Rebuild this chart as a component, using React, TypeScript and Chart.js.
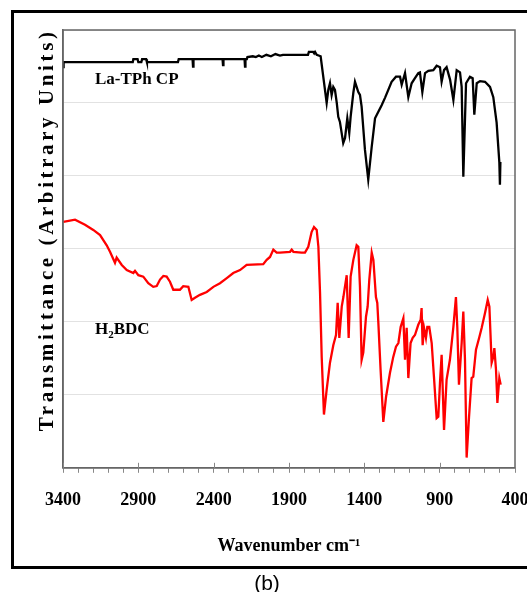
import React, { useEffect, useRef } from "react";
import { Chart, registerables } from "chart.js";

Chart.register(...registerables);

// La-TPh CP (black) spectrum: wavenumber (cm-1) and transmittance (arb. units)
const blackWn = [
  3400, 3396, 2937, 2933, 2905, 2900, 2880, 2875, 2848, 2843, 2637, 2632, 2540, 2537, 2534,
  2341, 2338, 2335, 2195, 2192, 2189, 2180, 2176, 2140, 2120, 2100, 2080, 2050, 2020, 1990,
  1960, 1940, 1774, 1768, 1740, 1733, 1727, 1716, 1690, 1650, 1639, 1628, 1617, 1606, 1595,
  1583, 1573, 1562, 1540, 1528, 1513, 1500, 1491, 1473, 1462, 1440, 1429, 1418, 1396, 1374,
  1351, 1329, 1307, 1285, 1263, 1241, 1219, 1190, 1163, 1152, 1130, 1108, 1086, 1064, 1042,
  1031, 1015, 997, 975, 942, 920, 898, 887, 871, 854, 831, 809, 787, 765, 754, 743, 725, 699,
  681, 670, 654, 632, 599, 566, 544, 522, 504, 500, 497,
];
const blackT = [
  54.9, 55.6, 55.6, 56.0, 56.0, 55.6, 55.6, 56.0, 56.0, 55.6, 55.6, 56.0, 56.0, 55.0, 56.0,
  56.0, 55.2, 56.0, 56.0, 55.0, 56.0, 56.0, 56.3, 56.4, 56.3, 56.5, 56.3, 56.6, 56.4, 56.7,
  56.5, 56.6, 56.6, 57.0, 57.0, 56.8, 57.0, 56.6, 56.4, 50.0, 51.8, 52.7, 51.1, 52.2, 51.8,
  50.0, 48.1, 47.4, 44.5, 45.2, 47.9, 45.9, 48.1, 51.4, 52.9, 51.5, 51.1, 49.5, 43.6, 39.5,
  44.0, 47.9, 48.8, 49.7, 50.7, 51.8, 52.9, 53.6, 53.6, 52.5, 54.1, 50.8, 52.7, 53.4, 54.1,
  54.2, 51.5, 54.1, 54.4, 54.5, 55.1, 54.9, 52.9, 54.5, 54.9, 53.2, 50.4, 54.5, 54.2, 52.2,
  39.9, 52.7, 53.6, 53.4, 48.4, 52.7, 53.0, 52.9, 52.2, 50.8, 47.3, 41.9, 38.8, 41.9,
];

// H2BDC (red) spectrum
const redWn = [
  3398, 3320, 3254, 3199, 3154, 3110, 3088, 3055, 3044, 3010, 2977, 2933, 2922, 2900, 2867,
  2834, 2801, 2778, 2756, 2734, 2712, 2690, 2668, 2624, 2602, 2568, 2546, 2524, 2491, 2446,
  2402, 2358, 2313, 2270, 2225, 2181, 2071, 2048, 2026, 2004, 1982, 1960, 1893, 1882, 1871,
  1816, 1794, 1772, 1750, 1734, 1716, 1705, 1694, 1683, 1668, 1650, 1628, 1606, 1588, 1577,
  1566, 1550, 1539, 1517, 1504, 1491, 1473, 1451, 1440, 1429, 1418, 1407, 1389, 1378, 1367,
  1351, 1340, 1323, 1314, 1307, 1292, 1274, 1256, 1230, 1208, 1190, 1174, 1159, 1141, 1130,
  1119, 1108, 1093, 1079, 1064, 1042, 1026, 1020, 1013, 1004, 991, 982, 969, 953, 938, 920,
  909, 898, 887, 871, 854, 832, 809, 792, 783, 772, 754, 743, 732, 721, 705, 688, 677, 659,
  637, 621, 599, 581, 570, 555, 544, 537, 526, 517, 504, 495,
];
const redT = [
  33.7, 34.0, 33.3, 32.6, 31.9, 30.5, 29.6, 28.1, 28.8, 27.8, 27.1, 26.7, 27.0, 26.4, 26.2,
  25.3, 24.8, 24.9, 25.8, 26.3, 26.2, 25.5, 24.4, 24.4, 24.9, 24.8, 23.0, 23.3, 23.7, 24.1,
  24.8, 25.3, 26.0, 26.7, 27.1, 27.8, 27.9, 28.5, 28.9, 29.9, 29.5, 29.5, 29.6, 29.9, 29.6,
  29.5, 29.5, 30.3, 32.3, 33.0, 32.6, 30.3, 24.0, 15.2, 7.3, 10.7, 14.4, 16.8, 18.2, 22.6,
  17.8, 22.1, 23.4, 26.4, 17.8, 26.2, 28.5, 30.5, 30.3, 24.8, 14.8, 15.8, 20.7, 22.1, 25.8,
  29.5, 28.5, 23.4, 22.6, 19.9, 13.4, 6.3, 9.7, 13.0, 15.2, 16.6, 17.1, 19.3, 20.5, 14.8,
  19.2, 12.3, 17.1, 17.8, 18.2, 19.6, 20.3, 21.9, 16.8, 19.2, 17.8, 19.3, 19.3, 17.1, 12.5, 6.8,
  7.0, 11.6, 15.5, 5.2, 12.1, 14.8, 19.3, 23.4, 19.3, 11.4, 17.1, 21.4, 14.8, 1.4, 7.0, 12.3,
  12.5, 16.2, 17.9, 19.2, 21.2, 23.0, 22.1, 14.4, 15.2, 16.4, 13.4, 8.9, 12.3, 11.4,
];

const xTickLabels = [3400, 2900, 2400, 1900, 1400, 900, 400];
const seriesNames = ["La-TPh CP", "H2BDC"];
const yTitle = "Transmittance (Arbitrary Units)";
const xTitle = "Wavenumber cm\u207B\u00B9";
// annotation anchors (data coordinates)
const labelWn = [3188, 3188];
const labelT = [53.2, 18.9];

const SERIF = '"Liberation Serif", "Times New Roman", serif';

const decorPlugin = {
  id: "decor",
  afterDraw(chart: any) {
    const { ctx, chartArea: ca, scales } = chart;
    const xs = scales.x;
    const ys = scales.y;
    ctx.save();
    // plot frame
    ctx.strokeStyle = "#666";
    ctx.lineWidth = 1.5;
    ctx.strokeRect(ca.left, ca.top, ca.right - ca.left, ca.bottom - ca.top);
    // inner marks for major ticks
    ctx.lineWidth = 1;
    ctx.strokeStyle = "#888";
    xTickLabels.forEach((v) => {
      const px = Math.round(xs.getPixelForValue(v)) + 0.5;
      ctx.beginPath();
      ctx.moveTo(px, ca.bottom);
      ctx.lineTo(px, ca.bottom - 5);
      ctx.stroke();
    });
    // y title
    ctx.save();
    ctx.translate(ca.left - 15, (ca.top + ca.bottom) / 2 - 19);
    ctx.rotate(-Math.PI / 2);
    ctx.font = "bold 21px " + SERIF;
    (ctx as any).letterSpacing = "3.6px";
    ctx.fillStyle = "#000";
    ctx.textAlign = "center";
    ctx.textBaseline = "middle";
    ctx.fillText(yTitle, 0, 0);
    ctx.restore();
    // series labels
    ctx.fillStyle = "#000";
    ctx.textAlign = "left";
    ctx.textBaseline = "middle";
    ctx.font = "bold 17px " + SERIF;
    const x0 = xs.getPixelForValue(labelWn[0]);
    const y0 = ys.getPixelForValue(labelT[0]);
    ctx.fillText(seriesNames[0], x0, y0);
    const x1 = xs.getPixelForValue(labelWn[1]);
    const y1 = ys.getPixelForValue(labelT[1]);
    ctx.fillText("H", x1, y1);
    let w = ctx.measureText("H").width;
    ctx.font = "bold 11px " + SERIF;
    ctx.fillText("2", x1 + w, y1 + 5);
    w += ctx.measureText("2").width;
    ctx.font = "bold 17px " + SERIF;
    ctx.fillText("BDC", x1 + w, y1);
    ctx.restore();
  },
};

export default function App() {
  const ref = useRef<HTMLCanvasElement | null>(null);
  useEffect(() => {
    if (!ref.current) return;
    const chart = new Chart(ref.current, {
      type: "line",
      data: {
        datasets: [
          {
            label: seriesNames[0],
            data: blackWn.map((x, i) => ({ x, y: blackT[i] })),
            borderColor: "#000000",
            borderWidth: 2.3,
            pointRadius: 0,
            tension: 0,
          },
          {
            label: seriesNames[1],
            data: redWn.map((x, i) => ({ x, y: redT[i] })),
            borderColor: "#ff0000",
            borderWidth: 2.3,
            pointRadius: 0,
            tension: 0,
          },
        ],
      },
      options: {
        responsive: false,
        animation: false,
        layout: { padding: { left: 63, top: 30, right: 55, bottom: 35 } },
        plugins: { legend: { display: false }, tooltip: { enabled: false } },
        scales: {
          x: {
            type: "linear",
            reverse: true,
            min: 400,
            max: 3400,
            ticks: {
              stepSize: 100,
              autoSkip: false,
              maxRotation: 0,
              padding: 17,
              color: "#000",
              font: { family: SERIF, size: 18, weight: "bold" },
              callback: (v: any) => (xTickLabels.includes(Number(v)) ? String(v) : ""),
            },
            grid: { drawOnChartArea: false, drawTicks: true, tickLength: 5, color: "#888" },
            border: { color: "#666", width: 1.5 },
            title: {
              display: true,
              text: xTitle,
              color: "#000",
              font: { family: SERIF, size: 18, weight: "bold" },
              padding: { top: 7, bottom: 0 },
            },
          },
          y: {
            min: 0,
            max: 60,
            ticks: { stepSize: 10, display: false },
            grid: { color: "#e2e2e2", drawTicks: false },
            border: { color: "#666", width: 1.5 },
          },
        },
      },
      plugins: [decorPlugin],
    });
    return () => chart.destroy();
  }, []);

  return (
    <div style={{ position: "absolute", left: 0, top: 0, width: 527, height: 592, overflow: "hidden", background: "#fff" }}>
      <div
        style={{
          position: "absolute",
          left: 11,
          top: 10,
          width: 620,
          height: 559,
          border: "3px solid #000",
          boxSizing: "border-box",
        }}
      />
      <canvas ref={ref} width={570} height={592} style={{ position: "absolute", left: 0, top: 0, display: "block" }} />
      <div
        style={{
          position: "absolute",
          left: 0,
          width: 534,
          top: 571,
          textAlign: "center",
          fontFamily: '"Liberation Sans", Arial, sans-serif',
          fontSize: 21,
          lineHeight: "24px",
        }}
      >
        (b)
      </div>
    </div>
  );
}
